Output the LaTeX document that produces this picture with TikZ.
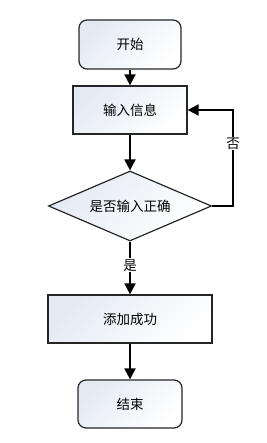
\documentclass[tikz,border=0pt]{standalone}
\usepackage{fontspec}
\setmainfont{Noto Sans CJK SC}
\usetikzlibrary{shapes.geometric,arrows.meta}
\definecolor{fillA}{HTML}{E4EAF4}
\begin{document}
\begin{tikzpicture}[x=1pt,y=-1pt,
  box/.style={draw=black!85,line width=1.2pt,left color=fillA,right color=white,shading angle=45,font=\fontsize{13.5}{15}\selectfont,inner sep=0pt},
  term/.style={box,rounded corners=8pt},
  arr/.style={line width=1.8pt,-{Triangle[length=11pt,width=11pt]}},
  lbl/.style={fill=white,inner sep=1pt,font=\fontsize{13.5}{15}\selectfont}]
\useasboundingbox (0,0) rectangle (266,443);
\node[term,minimum width=102pt,minimum height=49pt] (start) at (130,44.5) {开始};
\node[box,minimum width=114pt,minimum height=48pt] (input) at (130,110) {输入信息};
\node[box,diamond,aspect=2.33,minimum width=163pt,minimum height=70pt] (check) at (130,206) {是否输入正确};
\node[box,minimum width=164pt,minimum height=48pt] (add) at (130,319) {添加成功};
\node[term,minimum width=104pt,minimum height=48pt] (end) at (130,404) {结束};
\coordinate (c1) at (233,206);
\coordinate (c2) at (233,110);
\draw[arr] (start) -- (input);
\draw[arr] (input) -- (check);
\draw[arr] (check) -- node[lbl,pos=0.45] {是} (add);
\draw[arr] (add) -- (end);
\draw[arr] (check.east) -- (c1) -- node[lbl,pos=0.65] {否} (c2) -- (input.east);
\end{tikzpicture}
\end{document}
